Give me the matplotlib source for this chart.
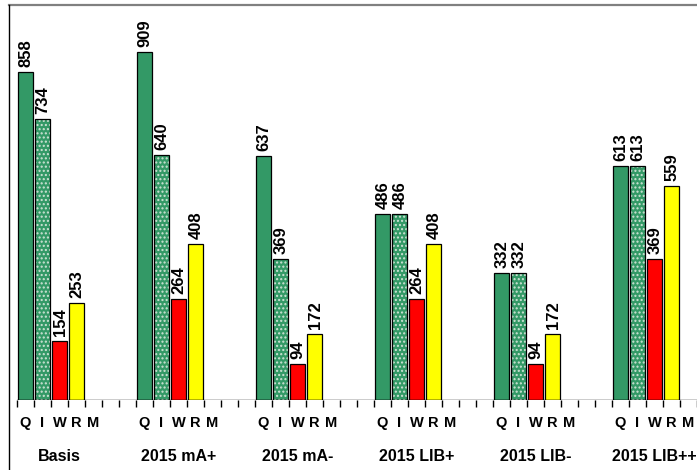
import matplotlib.pyplot as plt
import numpy as np
from matplotlib.lines import Line2D

plt.rcParams['font.family'] = ['Liberation Sans', 'DejaVu Sans']

groups = ["Basis", "2015 mA+", "2015 mA-", "2015 LIB+", "2015 LIB-", "2015 LIB++"]
slot_labels = ["Q", "I", "W", "R", "M"]
q_vals = [858, 909, 637, 486, 332, 613]
i_vals = [734, 640, 369, 486, 332, 613]
w_vals = [154, 264, 94, 264, 94, 369]
r_vals = [253, 408, 172, 408, 172, 559]

GREEN = "#339966"
RED = "#FF0000"
YELLOW = "#FFFF00"

W, H = 697, 470
fig = plt.figure(figsize=(W / 100, H / 100), dpi=100)

# plot area: x from 17 px to right edge, baseline at y=400, top at y=5
x0, base, top = 17, 400, 5
ax = fig.add_axes([x0 / W, (H - base) / H, (W - x0) / W, (base - top) / H])
ax.patch.set_alpha(0)
ax.set_xlim(0, 40)
ax.set_ylim(0, 909 * (base - top) / (base - 52.3))
for s in ax.spines.values():
    s.set_visible(False)
ax.set_yticks([])

group_slots = 7
series = [
    (q_vals, GREEN, None),
    (i_vals, GREEN, "...."),
    (w_vals, RED, None),
    (r_vals, YELLOW, None),
]

for g in range(len(groups)):
    start = g * group_slots
    for k, (vals, color, hatch) in enumerate(series):
        x = start + k + 0.5
        v = vals[g]
        if hatch:
            ax.bar(x, v, width=0.9, color=color, hatch=hatch, edgecolor="#cfe3d5",
                   linewidth=0, zorder=2)
            ax.bar(x, v, width=0.9, fill=False, edgecolor="black", linewidth=0.9, zorder=3)
        else:
            ax.bar(x, v, width=0.9, color=color, edgecolor="black", linewidth=0.9, zorder=2)
        ax.annotate(str(v), (x, v), xytext=(0.5, 3.5), textcoords="offset points",
                    rotation=90, ha="center", va="bottom", fontsize=12,
                    fontweight="bold")

# baseline and ticks
ax.axhline(0, color="black", linewidth=1, zorder=4)
ax.set_xticks(np.arange(0, 41))
ax.set_xticklabels([])
ax.tick_params(axis="x", direction="out", length=5, width=1, color="black")

for g, name in enumerate(groups):
    start = g * group_slots
    for k, lab in enumerate(slot_labels):
        xp = start + k + 0.5
        if xp < 40:
            ax.text(xp, -0.058, lab, transform=ax.get_xaxis_transform(),
                    ha="center", va="center", fontsize=10.5, fontweight="bold")
    ax.text(start + 2.5, -0.143, name, transform=ax.get_xaxis_transform(),
            ha="center", va="center", fontsize=11.5, fontweight="bold")

# chart border
fig.add_artist(Line2D([9 / W, 1], [1 - 5 / H, 1 - 5 / H], color="#808080",
                      linewidth=1.6, transform=fig.transFigure))
fig.add_artist(Line2D([9 / W, 9 / W], [0, 1 - 5 / H], color="black",
                      linewidth=1.0, transform=fig.transFigure))

fig.savefig("out.png", dpi=100)
